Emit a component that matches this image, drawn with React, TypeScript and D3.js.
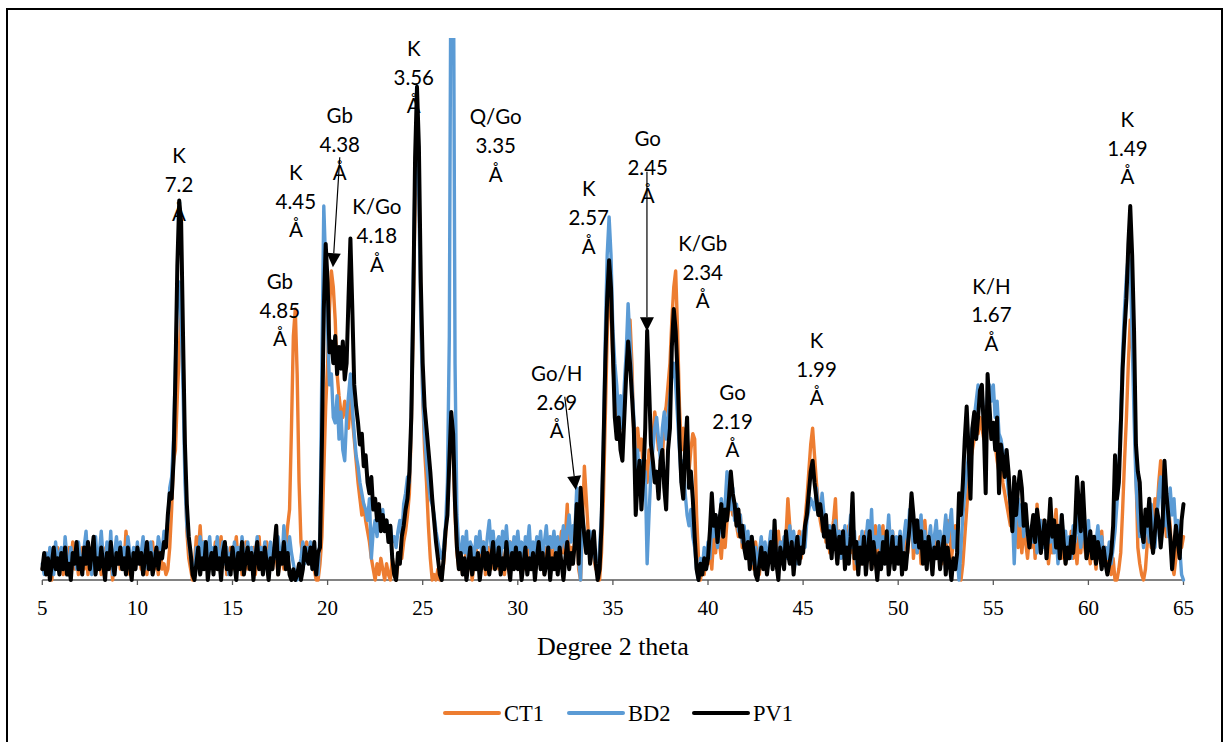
import React from 'react';
import * as d3 from 'd3';

// 2-theta grid: START + i * STEP (degrees)
const START = 5;
const STEP = 0.1;

// Intensities (relative units, 100 = top of plot area), one row per degree (x.0 ... x.9)
const CT1 = [
  2,4,1,5,3,0,4,2,6,3,
  5,1,4,2,6,3,7,2,4,1,
  3,6,2,5,1,4,6,3,5,2,
  4,1,6,3,5,2,4,0,5,3,
  6,2,4,3,9,5,1,4,2,6,
  3,5,2,6,4,1,5,3,7,2,
  4,1,6,2,3,1,2,6,13,22,
  24,34,42,50,42,22,9,4,2,0,
  3,8,5,10,4,7,2,6,3,5,
  4,7,2,5,8,3,6,1,4,6,
  2,5,8,3,6,1,4,7,2,5,
  3,6,1,5,8,2,6,4,7,3,
  5,2,6,4,1,3,5,2,6,10,
  13,28,45,50,38,18,7,4,6,7,
  5,3,4,2,0,0,3,8,20,32,
  40,50,57,54,48,38,34,31,30,33,
  30,28,34,30,26,22,18,15,12,14,
  11,9,7,4,2,0,3,1,4,2,
  0,3,1,0,4,2,0,3,5,4,
  7,9,12,16,28,48,70,80,74,52,
  34,24,18,10,4,0,1,0,2,0,
  1,3,8,14,22,28,24,12,5,2,
  4,1,3,6,2,5,0,3,6,2,
  5,3,7,1,4,6,2,5,3,7,
  2,6,4,1,5,3,7,2,5,4,
  6,3,1,5,2,7,4,3,6,1,
  4,7,3,5,1,6,3,8,2,5,
  7,3,6,9,5,8,14,4,6,3,
  8,12,2,0,10,21,15,9,5,7,
  4,2,3,0,5,15,30,45,55,50,
  40,34,30,26,30,28,34,40,46,48,
  40,26,22,28,24,26,20,22,18,24,
  22,26,31,28,24,26,22,30,32,36,
  40,48,54,57,46,32,24,28,22,27,
  20,24,27,26,12,4,0,3,1,5,
  3,6,2,8,5,10,7,4,9,6,
  11,13,16,12,14,10,8,12,6,9,
  5,8,3,6,2,7,4,1,5,3,
  6,2,5,8,3,6,4,9,5,7,
  4,8,15,10,6,3,7,5,9,4,
  7,11,15,20,25,28,23,18,14,11,
  9,12,7,10,5,8,11,15,6,9,
  4,8,3,6,10,5,9,2,7,4,
  8,3,6,9,4,7,2,6,10,5,
  3,7,10,4,8,2,6,9,5,7,
  4,8,3,6,9,5,11,14,4,8,
  5,9,3,7,11,6,4,8,2,6,
  8,4,7,3,6,5,11,9,4,7,
  10,5,2,0,3,8,13,18,22,24,
  26,28,27,30,28,26,32,30,28,26,
  28,25,22,20,24,18,16,14,12,10,
  11,8,13,6,10,5,9,7,4,8,
  6,10,4,14,8,5,11,6,9,3,
  7,5,9,13,6,10,4,8,3,7,
  5,9,4,7,3,8,5,10,6,4,
  6,3,8,5,2,7,4,9,3,6,
  2,5,1,4,0,0,2,5,13,22,
  30,40,48,44,37,20,6,3,1,0,
  2,7,11,6,9,15,12,18,22,16,
  12,8,14,10,3,1,4,7,10,6,
  8,
];

const BD2 = [
  3,1,5,2,6,4,1,7,3,5,
  6,2,8,4,1,6,3,5,2,7,
  4,2,6,9,3,5,1,6,8,3,
  5,9,4,2,7,3,9,1,5,8,
  4,7,2,6,3,8,5,1,6,3,
  7,3,5,8,2,6,4,7,3,5,
  4,8,6,5,9,8,11,17,19,26,
  40,52,55,48,35,18,10,7,4,2,
  2,6,3,8,4,7,2,5,8,3,
  6,4,8,2,5,7,3,6,1,5,
  3,7,4,6,2,8,5,3,7,4,
  6,2,5,8,3,6,4,7,2,5,
  7,3,6,4,8,5,3,10,6,4,
  8,5,3,1,0,2,4,7,3,6,
  4,7,2,6,3,1,9,40,69,58,
  46,36,38,30,29,34,26,31,24,22,
  30,34,38,32,27,23,21,18,16,14,
  13,11,15,4,9,11,8,12,10,13,
  9,11,8,10,7,8,6,9,11,8,
  14,16,19,18,30,55,75,84,70,48,
  34,27,22,18,15,14,12,9,7,5,
  4,6,10,18,45,130,130,40,12,6,
  4,8,5,9,3,7,6,4,8,6,
  9,5,7,4,8,11,6,9,5,7,
  8,4,9,6,10,5,7,3,8,6,
  9,5,7,3,8,6,10,4,7,5,
  8,6,9,4,7,10,5,8,6,9,
  5,8,4,7,10,6,9,12,7,10,
  9,17,4,0,12,8,5,7,9,6,
  5,3,1,6,12,25,45,60,67,60,
  46,40,36,30,34,28,36,42,51,44,
  36,30,20,24,18,22,16,20,3,12,
  20,24,28,30,26,22,28,31,26,30,
  34,38,40,36,30,24,18,22,16,12,
  10,13,8,6,2,0,4,2,6,3,
  7,4,10,8,12,6,9,15,11,14,
  20,16,13,17,11,14,9,12,7,10,
  6,9,4,8,3,6,2,5,8,4,
  7,3,6,9,4,8,5,2,7,5,
  8,4,7,10,5,9,6,3,8,5,
  9,6,11,13,15,14,13,17,13,12,
  16,12,9,7,10,5,8,11,6,9,
  4,7,10,5,8,12,6,9,3,7,
  5,9,3,7,11,6,13,4,8,6,
  10,5,8,3,7,12,6,9,4,8,
  6,9,4,8,11,7,13,10,6,9,
  5,8,12,6,9,3,7,10,5,8,
  11,6,9,4,8,12,7,10,13,6,
  9,4,0,6,12,16,20,23,26,28,
  30,33,36,34,35,30,21,35,36,33,
  36,30,33,27,26,24,22,20,16,14,
  13,3,12,15,10,14,8,12,9,6,
  10,7,12,5,9,11,6,8,4,10,
  7,11,5,9,3,8,12,6,9,5,
  8,4,10,7,12,9,6,11,8,5,
  11,6,8,4,7,10,5,8,3,6,
  4,7,3,6,9,14,20,30,42,50,
  56,60,58,45,30,18,12,8,10,6,
  9,12,7,14,10,6,11,16,19,13,
  10,14,8,17,12,15,9,11,6,1,
  0,
];

const PV1 = [
  2,5,1,4,0,3,6,2,4,1,
  5,2,6,1,3,0,5,3,7,2,
  4,1,6,3,7,2,5,8,1,4,
  2,6,3,0,5,2,7,3,1,5,
  3,6,2,4,1,6,3,0,5,2,
  6,3,5,1,4,7,2,5,1,3,
  6,2,5,4,7,6,12,16,15,22,
  38,58,70,66,45,25,14,8,5,1,
  0,3,6,1,4,2,7,0,3,5,
  1,6,2,4,0,5,7,2,4,1,
  6,3,0,5,2,7,1,4,6,2,
  5,0,4,7,2,5,1,6,3,0,
  4,2,6,10,1,5,3,7,2,5,
  1,0,2,0,1,3,0,2,6,4,
  3,6,2,7,1,5,6,25,50,62,
  55,42,44,40,45,38,43,39,44,37,
  40,52,63,50,36,32,29,25,27,21,
  23,18,16,19,13,15,11,14,9,12,
  9,11,7,10,4,1,0,5,3,8,
  10,13,15,20,30,50,78,91,80,55,
  40,32,28,24,20,15,11,7,4,1,
  0,4,9,12,22,31,27,14,6,2,
  5,1,4,0,3,6,1,4,2,5,
  0,3,6,2,5,1,4,7,2,3,
  6,1,4,2,7,3,0,5,2,6,
  2,5,0,3,6,1,4,2,5,0,
  4,7,2,5,1,3,6,0,4,2,
  5,1,6,3,0,4,7,2,5,3,
  7,14,3,17,12,8,5,9,3,6,
  9,3,0,2,10,24,40,52,59,54,
  42,30,26,30,24,22,30,38,44,40,
  34,28,12,18,22,13,19,28,46,36,
  25,22,18,20,15,22,24,17,13,24,
  28,43,50,46,38,26,18,15,24,30,
  17,20,15,8,2,0,3,1,4,2,
  4,9,16,10,12,7,11,14,8,13,
  11,15,20,16,14,10,13,8,10,6,
  4,7,2,8,5,1,0,3,6,2,
  5,1,4,7,2,11,3,0,6,4,
  2,9,5,3,7,1,5,8,3,6,
  5,10,12,16,20,22,18,15,12,14,
  11,8,12,6,9,4,10,7,3,8,
  5,9,2,6,3,8,16,4,7,1,
  6,3,8,1,5,9,2,7,4,0,
  5,2,7,3,9,1,4,8,2,6,
  3,8,1,5,2,6,10,16,12,7,
  11,6,9,3,7,2,8,5,1,6,
  4,7,2,5,8,1,6,3,0,4,
  2,5,16,12,18,26,32,24,15,28,
  31,26,30,35,36,28,16,38,32,26,
  29,24,30,16,25,22,19,24,20,14,
  9,19,12,17,20,17,10,14,9,6,
  9,12,7,13,10,5,8,11,4,9,
  15,8,11,6,10,4,12,7,3,6,
  4,8,5,10,19,14,9,18,11,4,
  6,9,4,8,3,7,5,2,6,3,
  1,3,5,10,23,15,18,28,39,46,
  52,62,69,60,46,25,20,18,9,7,
  13,10,15,8,5,9,13,11,6,10,
  22,16,12,8,2,6,10,7,4,11,
  14,
];

const seriesNames = ['CT1', 'BD2', 'PV1'];
const seriesData = [CT1, BD2, PV1];
const seriesColors = ['#ED7D31', '#5B9BD5', '#000000'];

const xTicks = [5, 10, 15, 20, 25, 30, 35, 40, 45, 50, 55, 60, 65];
const xTitle = 'Degree 2 theta';

// Peak labels: mineral, d-spacing, unit; anchored at (2θ, intensity) of first line
const labelMinerals = ['K', 'Gb', 'K', 'Gb', 'K/Go', 'K', 'Q/Go', 'Go/H', 'K', 'Go', 'K/Gb', 'Go', 'K', 'K/H', 'K'];
const labelSpacings = ['7.2', '4.85', '4.45', '4.38', '4.18', '3.56', '3.35', '2.69', '2.57', '2.45', '2.34', '2.19', '1.99', '1.67', '1.49'];
const labelTheta = [12.19, 17.49, 18.33, 20.64, 22.59, 24.53, 28.84, 32.05, 33.73, 36.83, 39.72, 41.29, 45.71, 54.9, 62.05];
const labelLevel = [78.2, 55.0, 75.1, 85.6, 68.8, 98.0, 85.4, 38.0, 72.1, 81.4, 62.0, 34.5, 44.1, 54.1, 84.9];

// Arrows [from θ, from I, to θ, to I]
const arrowsData = [
  [20.64, 78.0, 20.28, 57.7],
  [36.79, 75.3, 36.79, 45.9],
  [32.47, 33.8, 33.05, 16.6],
];

export default function App() {
  const W = 1226, H = 742;
  const x = d3.scaleLinear().domain([5, 65]).range([42.3, 1183.5]);
  const y = d3.scaleLinear().domain([0, 100]).range([580, 38]);
  const line = d3.line<number>()
    .x((_, i) => x(START + i * STEP))
    .y((d) => y(d));

  const widths = [3.4, 3.4, 4];
  const serif = '"Liberation Serif", "Times New Roman", serif';
  const sans = 'Lato, "Open Sans", sans-serif';
  const lineGap = 28.7;

  const legendX = [445, 569, 694];

  return (
    <svg width={W} height={H} style={{ position: 'absolute', left: 0, top: 0, background: '#fff' }}>
      <rect x={0} y={0} width={W} height={H} fill="#fff" />
      <rect x={7} y={9} width={1215} height={800} fill="none" stroke="#000" strokeWidth={2} />
      <defs>
        <clipPath id="plotClip">
          <rect x={x(5) - 4} y={y(100)} width={x(65) - x(5) + 8} height={y(0) - y(100) + 4} />
        </clipPath>
      </defs>
      {/* axis */}
      <line x1={x(5)} x2={x(65)} y1={y(0)} y2={y(0)} stroke="#595959" strokeWidth={1.3} />
      {xTicks.map((t) => (
        <g key={t}>
          <line x1={x(t)} x2={x(t)} y1={y(0)} y2={y(0) + 5} stroke="#595959" strokeWidth={1.3} />
          <text x={x(t)} y={615} textAnchor="middle" fontFamily={serif} fontSize={21} fill="#000">{t}</text>
        </g>
      ))}
      <text x={(x(5) + x(65)) / 2} y={655} textAnchor="middle" fontFamily={serif} fontSize={26} fill="#000">{xTitle}</text>
      {/* series */}
      <g clipPath="url(#plotClip)">
        {seriesData.map((s, k) => (
          <path key={seriesNames[k]} d={line(s) || ''} fill="none" stroke={seriesColors[k]}
            strokeWidth={widths[k]} strokeLinejoin="round" strokeLinecap="round" />
        ))}
      </g>
      {/* labels */}
      {labelMinerals.map((m, i) => {
        const cx = x(labelTheta[i]);
        const cy = y(labelLevel[i]);
        const lines = [m, labelSpacings[i], 'Å'];
        return (
          <g key={i}>
            {lines.map((t, j) => (
              <text key={j} x={cx} y={cy + j * lineGap + 7} textAnchor="middle"
                fontFamily={sans} fontSize={20.5} fill="#000">{t}</text>
            ))}
          </g>
        );
      })}
      {/* arrows */}
      {arrowsData.map((a, i) => {
        const x1 = x(a[0]), y1 = y(a[1]), x2 = x(a[2]), y2 = y(a[3]);
        const dx = x2 - x1, dy = y2 - y1;
        const len = Math.sqrt(dx * dx + dy * dy);
        const ux = dx / len, uy = dy / len;
        const L = 14, hw = 7;
        const bx = x2 - ux * L, by = y2 - uy * L;
        const pts = `${x2},${y2} ${bx - uy * hw},${by + ux * hw} ${bx + uy * hw},${by - ux * hw}`;
        return (
          <g key={i}>
            <line x1={x1} y1={y1} x2={bx} y2={by} stroke="#000" strokeWidth={1.2} />
            <polygon points={pts} fill="#000" />
          </g>
        );
      })}
      {/* legend */}
      {seriesNames.map((n, k) => (
        <g key={n}>
          <line x1={legendX[k]} x2={legendX[k] + 54} y1={713} y2={713} stroke={seriesColors[k]} strokeWidth={4} strokeLinecap="round" />
          <text x={legendX[k] + 59} y={721} fontFamily={serif} fontSize={22.5} fill="#000">{n}</text>
        </g>
      ))}
    </svg>
  );
}
